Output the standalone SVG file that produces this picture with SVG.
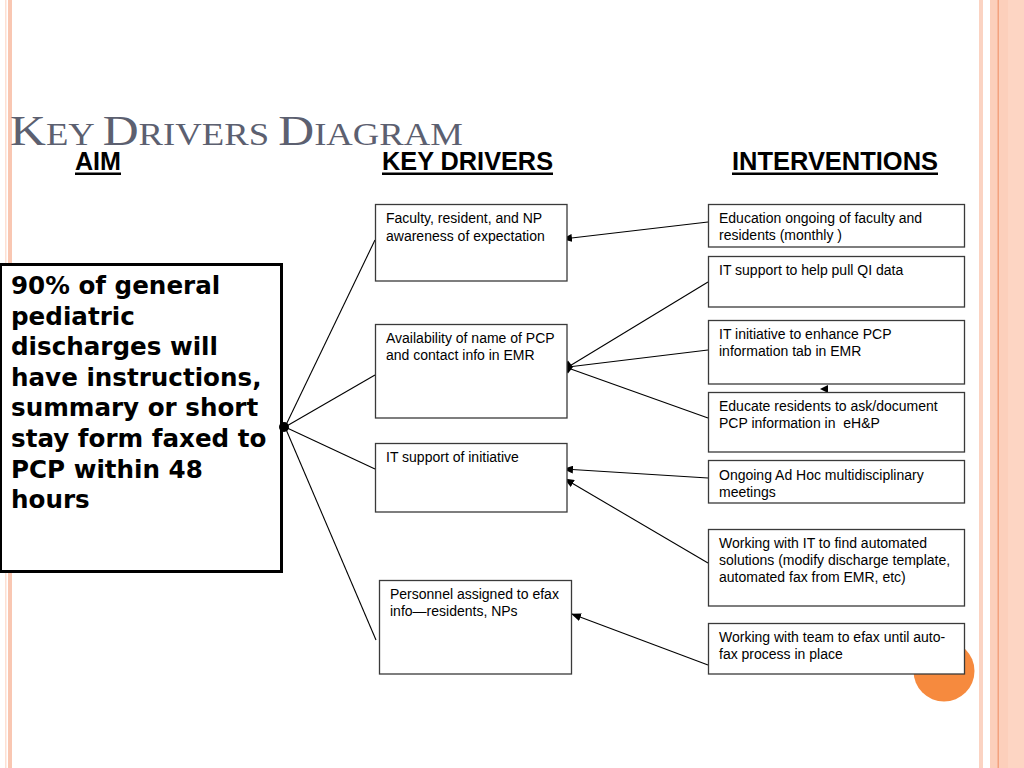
<svg xmlns="http://www.w3.org/2000/svg" width="1024" height="768" viewBox="0 0 1024 768">
<defs>
<style>
.box{fill:#fff;stroke:#3a3a3a;stroke-width:1.3}
.t{font-family:"Liberation Sans",Arial,sans-serif;font-size:14px;fill:#000}
.aim{font-family:"DejaVu Sans",Verdana,sans-serif;font-weight:bold;font-size:24.6px;fill:#000}
.hd{font-family:"Liberation Sans",Arial,sans-serif;font-weight:bold;font-size:25px;fill:#000}
.ln{stroke:#000;stroke-width:1.1;fill:none}
</style>
<marker id="ah" markerUnits="userSpaceOnUse" markerWidth="10" markerHeight="8" refX="9" refY="4" orient="auto">
<path d="M0,0 L10,4 L0,8 Z" fill="#000"/>
</marker>
</defs>
<rect width="1024" height="768" fill="#fff"/>
<g id="decor">
<rect x="5" y="0" width="1.5" height="768" fill="#fde0d3"/>
<rect x="8" y="0" width="4" height="768" fill="#f9c7b2"/>
<rect x="979" y="0" width="4" height="768" fill="#fbd3c2"/>
<rect x="990" y="0" width="34" height="768" fill="#fccfbb"/>
<rect x="997.5" y="0" width="1.5" height="768" fill="#f3a27f"/>
<rect x="1008" y="0" width="16" height="768" fill="#fdd5c3"/>
<circle cx="944" cy="671" r="30.5" fill="#f68a3e"/>
</g>
<g id="title">
<text x="10" y="145" font-family="'Liberation Serif','Times New Roman',serif" fill="#5c6070" textLength="453" lengthAdjust="spacingAndGlyphs"><tspan font-size="42">K</tspan><tspan font-size="31">EY </tspan><tspan font-size="42">D</tspan><tspan font-size="31">RIVERS </tspan><tspan font-size="42">D</tspan><tspan font-size="31">IAGRAM</tspan></text>
</g>
<g id="headings">
<text class="hd" x="75" y="170" textLength="46" lengthAdjust="spacingAndGlyphs">AIM</text>
<rect x="75" y="172.5" width="46" height="2.5" fill="#000"/>
<text class="hd" x="382" y="170" textLength="171" lengthAdjust="spacingAndGlyphs">KEY DRIVERS</text>
<rect x="382" y="172.5" width="171" height="2.5" fill="#000"/>
<text class="hd" x="732" y="170" textLength="206" lengthAdjust="spacingAndGlyphs">INTERVENTIONS</text>
<rect x="732" y="172.5" width="206" height="2.5" fill="#000"/>
</g>
<g id="connectors">
<line class="ln" x1="285" y1="427" x2="375" y2="240"/>
<line class="ln" x1="285" y1="427" x2="375" y2="375"/>
<line class="ln" x1="285" y1="427" x2="375" y2="469"/>
<line class="ln" x1="285" y1="427" x2="376" y2="640"/>
<line class="ln" x1="708" y1="222" x2="563" y2="239" marker-end="url(#ah)"/>
<line class="ln" x1="708" y1="282" x2="568" y2="367"/>
<line class="ln" x1="708" y1="350" x2="568" y2="367"/>
<line class="ln" x1="708" y1="418" x2="568" y2="368"/>
<line class="ln" x1="708" y1="478" x2="564" y2="469" marker-end="url(#ah)"/>
<line class="ln" x1="708" y1="563" x2="565" y2="479" marker-end="url(#ah)"/>
<line class="ln" x1="708" y1="665" x2="572" y2="614" marker-end="url(#ah)"/>
<polygon points="563,367 568,360.5 573,367 568,373.5" fill="#000"/>
<polygon points="820,389 828,385 828,393" fill="#000"/>
</g>
<g id="aim">
<rect x="0.5" y="264.5" width="281" height="307" fill="#fff" stroke="#000" stroke-width="3"/>
<text class="aim" x="11" y="294">90% of general</text>
<text class="aim" x="11" y="324.6">pediatric</text>
<text class="aim" x="11" y="355.2">discharges will</text>
<text class="aim" x="11" y="385.8">have instructions,</text>
<text class="aim" x="11" y="416.4">summary or short</text>
<text class="aim" x="11" y="447">stay form faxed to</text>
<text class="aim" x="11" y="477.6">PCP within 48</text>
<text class="aim" x="11" y="508.2">hours</text>
</g>
<circle cx="284" cy="427" r="5" fill="#000"/>
<g id="driver1">
<rect class="box" x="375.5" y="204.5" width="191.5" height="76.5"/>
<text class="t" x="386" y="223">Faculty, resident, and NP</text>
<text class="t" x="386" y="241">awareness of expectation</text>
</g>
<g id="driver2">
<rect class="box" x="375.5" y="324.5" width="191.5" height="93.5"/>
<text class="t" x="386" y="343">Availability of name of PCP</text>
<text class="t" x="386" y="360">and contact info in EMR</text>
</g>
<g id="driver3">
<rect class="box" x="375.5" y="443.5" width="191.5" height="68.5"/>
<text class="t" x="386" y="462">IT support of initiative</text>
</g>
<g id="driver4">
<rect class="box" x="379.5" y="580.5" width="192" height="93.5"/>
<text class="t" x="390" y="599">Personnel assigned to efax</text>
<text class="t" x="390" y="616">info—residents, NPs</text>
</g>
<g id="int1">
<rect class="box" x="708.5" y="204.5" width="256" height="42.5"/>
<text class="t" x="719" y="223">Education ongoing of faculty and</text>
<text class="t" x="719" y="240">residents (monthly )</text>
</g>
<g id="int2">
<rect class="box" x="708.5" y="256.5" width="256" height="50.5"/>
<text class="t" x="719" y="275">IT support to help pull QI data</text>
</g>
<g id="int3">
<rect class="box" x="708.5" y="320.5" width="256" height="63.5"/>
<text class="t" x="719" y="339">IT initiative to enhance PCP</text>
<text class="t" x="719" y="356">information tab in EMR</text>
</g>
<g id="int4">
<rect class="box" x="708.5" y="392.5" width="256" height="59.5"/>
<text class="t" x="719" y="411">Educate residents to ask/document</text>
<text class="t" x="719" y="428" xml:space="preserve">PCP information in  eH&amp;P</text>
</g>
<g id="int5">
<rect class="box" x="708.5" y="460.5" width="256" height="42.5"/>
<text class="t" x="719" y="480">Ongoing Ad Hoc multidisciplinary</text>
<text class="t" x="719" y="497">meetings</text>
</g>
<g id="int6">
<rect class="box" x="708.5" y="529.5" width="256" height="76.5"/>
<text class="t" x="719" y="548">Working with IT to find automated</text>
<text class="t" x="719" y="565">solutions (modify discharge template,</text>
<text class="t" x="719" y="582">automated fax from EMR, etc)</text>
</g>
<g id="int7">
<rect class="box" x="708.5" y="623.5" width="256" height="50.5"/>
<text class="t" x="719" y="642">Working with team to efax until auto-</text>
<text class="t" x="719" y="659">fax process in place</text>
</g>
</svg>
